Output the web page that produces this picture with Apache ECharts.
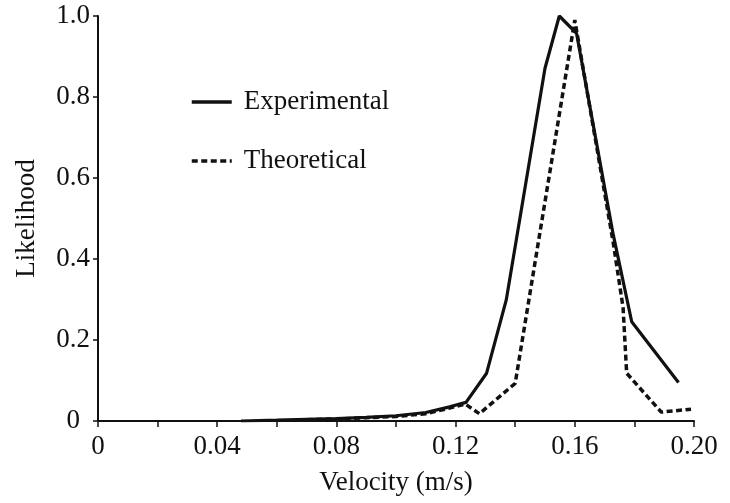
<!DOCTYPE html>
<html>
<head>
<meta charset="utf-8">
<script src="https://cdn.jsdelivr.net/npm/echarts@6/dist/echarts.min.js"></script>
<style>
  html, body { margin: 0; padding: 0; background: #fff; }
  #chart { width: 730px; height: 503px; }
</style>
</head>
<body>
<div id="chart"></div>
<script>
// Measured likelihood of each velocity (m/s)
const expVelocity   = [0.048, 0.06, 0.07, 0.08, 0.09, 0.10, 0.11, 0.118, 0.1235, 0.1304, 0.137, 0.150, 0.1548, 0.1606, 0.1729, 0.1791, 0.1948];
const expLikelihood = [0, 0.002, 0.004, 0.006, 0.009, 0.013, 0.021, 0.035, 0.046, 0.118, 0.299, 0.871, 1.0, 0.957, 0.46, 0.245, 0.095];

// Model prediction
const theoVelocity   = [0.07, 0.08, 0.09, 0.10, 0.11, 0.118, 0.1232, 0.128, 0.140, 0.160, 0.1729, 0.1762, 0.1774, 0.189, 0.199];
const theoLikelihood = [0.003, 0.005, 0.008, 0.011, 0.018, 0.032, 0.042, 0.018, 0.093, 0.99, 0.44, 0.28, 0.118, 0.022, 0.029];

const xTickLabels = ['0', '0.04', '0.08', '0.12', '0.16', '0.20'];
const yTickLabels = ['0', '0.2', '0.4', '0.6', '0.8', '1.0'];

const seriesNames = ['Experimental', 'Theoretical'];

const FONT = "'Liberation Serif', 'Times New Roman', serif";
const INK = '#111';

function pairs(xs, ys) {
  return xs.map((x, i) => [x, ys[i]]);
}

const chart = echarts.init(document.getElementById('chart'), null, { renderer: 'canvas' });

chart.setOption({
  backgroundColor: '#fff',
  animation: false,
  grid: { left: 98, right: 36, top: 16, bottom: 82, containLabel: false },
  legend: {
    orient: 'vertical',
    left: 185,
    top: 82,
    itemWidth: 40,
    itemHeight: 14,
    itemGap: 29,
    data: [
      { name: seriesNames[0], lineStyle: { width: 3.5, type: 'solid' } },
      { name: seriesNames[1], lineStyle: { width: 3.5, type: [6, 3.5] } }
    ],
    // keep only the line sample in each key, no marker dot
    itemStyle: { opacity: 0 },
    textStyle: { fontFamily: FONT, fontSize: 27, color: INK, lineHeight: 30, padding: [0, 0, 0, 7] }
  },
  xAxis: {
    type: 'value',
    min: 0,
    max: 0.2,
    interval: 0.02,
    name: 'Velocity (m/s)',
    nameLocation: 'middle',
    nameGap: 48,
    nameTextStyle: { fontFamily: FONT, fontSize: 27, color: INK },
    axisLine: { show: true, lineStyle: { color: INK, width: 2 } },
    axisTick: { show: true, inside: false, length: 6, lineStyle: { color: INK, width: 1.5 } },
    splitLine: { show: false },
    axisLabel: {
      margin: 12,
      fontFamily: FONT,
      fontSize: 27,
      color: INK,
      formatter: function (v) {
        const k = v / 0.04;
        const r = Math.round(k);
        return Math.abs(k - r) < 1e-6 ? xTickLabels[r] : '';
      }
    }
  },
  yAxis: {
    type: 'value',
    min: 0,
    max: 1,
    interval: 0.2,
    name: 'Likelihood',
    nameLocation: 'middle',
    nameGap: 58,
    nameTextStyle: { fontFamily: FONT, fontSize: 27, color: INK },
    axisLine: { show: true, lineStyle: { color: INK, width: 2 } },
    axisTick: { show: true, inside: false, length: 5, lineStyle: { color: INK, width: 1.5 } },
    splitLine: { show: false },
    axisLabel: {
      margin: 8,
      fontFamily: FONT,
      fontSize: 27,
      color: INK,
      formatter: function (v) {
        const i = Math.round(v / 0.2);
        // the origin label sits a little further out from the axis
        return i === 0 ? '{origin|' + yTickLabels[i] + '}' : yTickLabels[i];
      },
      rich: {
        origin: { fontFamily: FONT, fontSize: 27, color: INK, padding: [0, 10, 0, 0] }
      }
    }
  },
  series: [
    {
      name: seriesNames[0],
      type: 'line',
      data: pairs(expVelocity, expLikelihood),
      symbol: 'none',
      color: INK,
      lineStyle: { color: INK, width: 3.2, type: 'solid' }
    },
    {
      name: seriesNames[1],
      type: 'line',
      data: pairs(theoVelocity, theoLikelihood),
      symbol: 'none',
      color: INK,
      lineStyle: { color: INK, width: 3.5, type: [6, 3.5] }
    }
  ]
});
</script>
</body>
</html>
